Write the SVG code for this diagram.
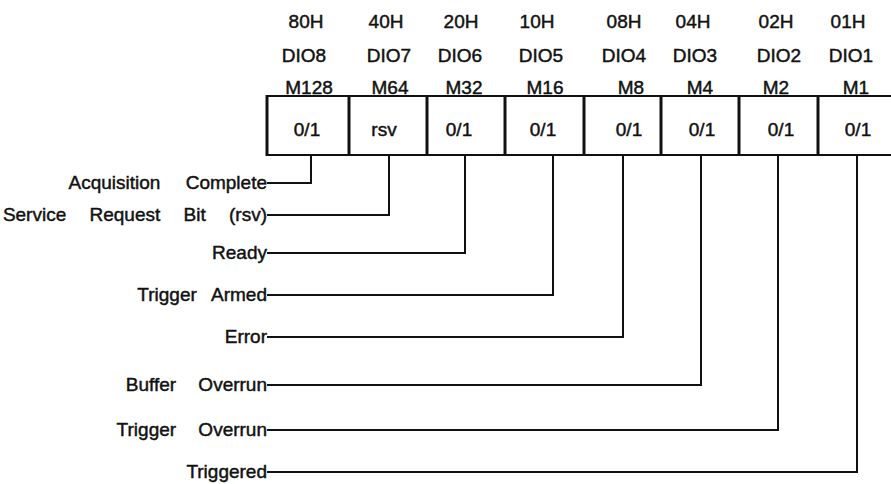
<svg xmlns="http://www.w3.org/2000/svg" width="891" height="484" viewBox="0 0 891 484">
<style>
text{font-family:"Liberation Sans",Arial,sans-serif;font-size:19px;fill:#111;stroke:#111;stroke-width:0.45px}
.c{text-anchor:middle}
.l{text-anchor:end}
.box{stroke:#111;stroke-width:2.2;fill:none}
.div{stroke:#111;stroke-width:3;fill:none}
.ld{stroke:#111;stroke-width:2;fill:none}
</style>
<rect width="891" height="484" fill="#fff"/>
<g id="register">
<line class="box" x1="267" y1="96" x2="891" y2="96"/>
<line class="box" x1="267" y1="155" x2="891" y2="155"/>
<line class="div" x1="267" y1="95" x2="267" y2="156"/>
</g>
<g id="bit7">
<text class="c" x="306" y="28">80H</text>
<text class="c" x="304" y="62">DIO8</text>
<text class="c" x="309" y="94">M128</text>
<text class="c" x="307" y="136">0/1</text>
</g>
<g id="bit6">
<line class="div" x1="349" y1="95" x2="349" y2="156"/>
<text class="c" x="386" y="28">40H</text>
<text class="c" x="389" y="62">DIO7</text>
<text class="c" x="390" y="94">M64</text>
<text class="c" x="384" y="136">rsv</text>
</g>
<g id="bit5">
<line class="div" x1="427" y1="95" x2="427" y2="156"/>
<text class="c" x="461" y="28">20H</text>
<text class="c" x="460" y="62">DIO6</text>
<text class="c" x="464" y="94">M32</text>
<text class="c" x="459" y="136">0/1</text>
</g>
<g id="bit4">
<line class="div" x1="505" y1="95" x2="505" y2="156"/>
<text class="c" x="537" y="28">10H</text>
<text class="c" x="541" y="62">DIO5</text>
<text class="c" x="545" y="94">M16</text>
<text class="c" x="543" y="136">0/1</text>
</g>
<g id="bit3">
<line class="div" x1="584" y1="95" x2="584" y2="156"/>
<text class="c" x="624" y="28">08H</text>
<text class="c" x="624" y="62">DIO4</text>
<text class="c" x="631" y="94">M8</text>
<text class="c" x="629" y="136">0/1</text>
</g>
<g id="bit2">
<line class="div" x1="661" y1="95" x2="661" y2="156"/>
<text class="c" x="693" y="28">04H</text>
<text class="c" x="695" y="62">DIO3</text>
<text class="c" x="700" y="94">M4</text>
<text class="c" x="702" y="136">0/1</text>
</g>
<g id="bit1">
<line class="div" x1="739" y1="95" x2="739" y2="156"/>
<text class="c" x="776" y="28">02H</text>
<text class="c" x="779" y="62">DIO2</text>
<text class="c" x="776" y="94">M2</text>
<text class="c" x="781" y="136">0/1</text>
</g>
<g id="bit0">
<line class="div" x1="818" y1="95" x2="818" y2="156"/>
<text class="c" x="848" y="28">01H</text>
<text class="c" x="851" y="62">DIO1</text>
<text class="c" x="856" y="94">M1</text>
<text class="c" x="858" y="136">0/1</text>
</g>
<g id="label-acq"><text class="l" x="267" y="189" style="word-spacing:20px">Acquisition Complete</text></g>
<g id="label-rsv"><text class="l" x="267" y="221" style="word-spacing:18px">Service Request Bit (rsv)</text></g>
<g id="label-ready"><text class="l" x="267" y="259">Ready</text></g>
<g id="label-armed"><text class="l" x="267" y="301" style="word-spacing:10px">Trigger Armed</text></g>
<g id="label-error"><text class="l" x="267" y="343">Error</text></g>
<g id="label-buffer"><text class="l" x="267" y="391" style="word-spacing:17px">Buffer Overrun</text></g>
<g id="label-tovr"><text class="l" x="267" y="436" style="word-spacing:17px">Trigger Overrun</text></g>
<g id="label-triggered"><text class="l" x="267" y="478">Triggered</text></g>
<g id="connectors">
<polyline class="ld" points="311,156 311,183 267,183"/>
<polyline class="ld" points="389,156 389,215 267,215"/>
<polyline class="ld" points="465,156 465,253 267,253"/>
<polyline class="ld" points="553,156 553,295 267,295"/>
<polyline class="ld" points="623,156 623,337 267,337"/>
<polyline class="ld" points="701,156 701,385 267,385"/>
<polyline class="ld" points="778,156 778,430 267,430"/>
<polyline class="ld" points="857,156 857,472 267,472"/>
</g>
</svg>
